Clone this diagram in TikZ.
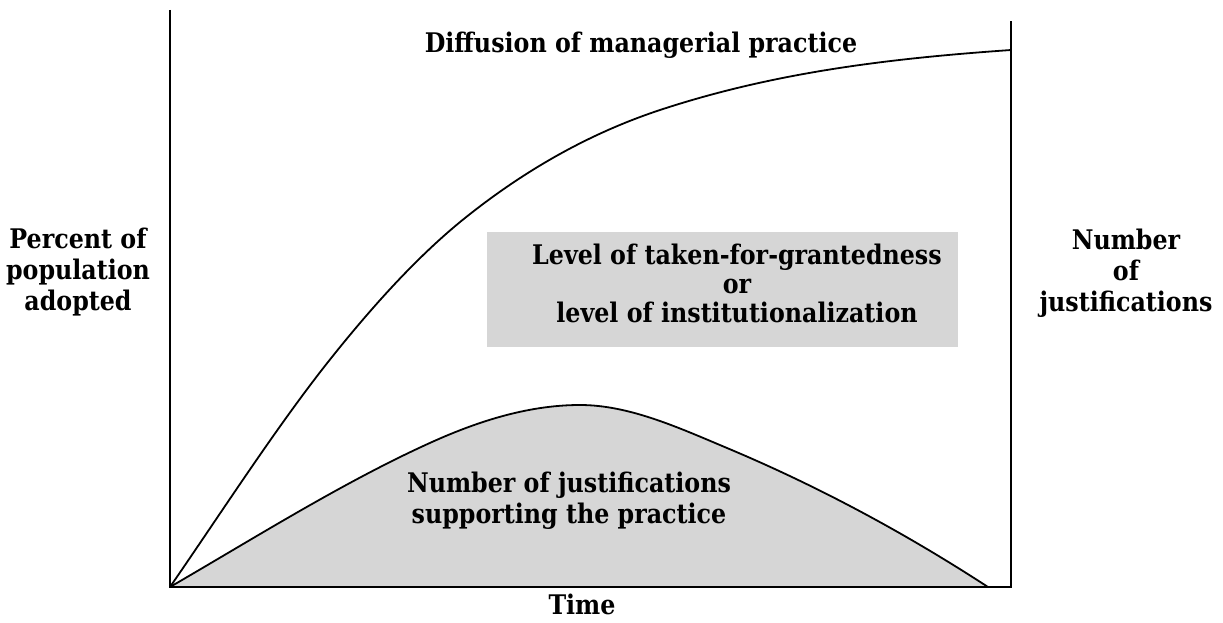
\documentclass[tikz,border=0pt]{standalone}
\usepackage{fontspec}
\setmainfont{DejaVu Serif}[FakeStretch=0.88]
\definecolor{fillgray}{gray}{0.84}
\begin{document}
\begin{tikzpicture}[x=1pt,y=-1pt,
  lbl/.style={font=\fontsize{27}{31}\selectfont\bfseries, inner sep=0pt, align=center, anchor=base},
  boxlbl/.style={font=\fontsize{27}{29}\selectfont\bfseries, inner sep=0pt, align=center, anchor=base},
  axisline/.style={line width=2.2pt, line join=miter},
  curve/.style={line width=1.8pt},
  shade/.style={fill=fillgray, draw=none}]
\useasboundingbox (0,0) rectangle (1223,623);
\coordinate (O) at (170,587);
\coordinate (TL) at (170,10);
\coordinate (BR) at (1011,587);
\coordinate (TR) at (1011,21);
% bell curve key points
\coordinate (b1) at (432,442);
\coordinate (b2) at (580,405);
\coordinate (b3) at (727,448);
\coordinate (b4) at (988,587);
% diffusion curve key points
\coordinate (d1) at (332,357);
\coordinate (d2) at (465,218);
\coordinate (d3) at (660,110);
\coordinate (d4) at (1011,50);
% shaded bell
\fill[fillgray] (O) .. controls (257.3,536.4) and (344.7,481.3) .. (b1)
  .. controls (481.3,419.8) and (530.7,405) .. (b2)
  .. controls (629,405) and (678,427.4) .. (b3)
  .. controls (814,484.5) and (901,530.4) .. (b4) -- cycle;
\draw[curve] (O) .. controls (257.3,536.4) and (344.7,481.3) .. (b1)
  .. controls (481.3,419.8) and (530.7,405) .. (b2)
  .. controls (629,405) and (678,427.4) .. (b3)
  .. controls (814,484.5) and (901,530.4) .. (b4);
% diffusion curve
\draw[curve] (O) .. controls (224,508.7) and (278,424.5) .. (d1)
  .. controls (376.3,301.6) and (420.7,253.5) .. (d2)
  .. controls (530,166) and (595,131.5) .. (d3)
  .. controls (777,71.4) and (894,58.2) .. (d4);
% grey box
\node[shade, minimum width=471pt, minimum height=115pt, inner sep=0pt] (box) at (722.5,289.5) {};
% axes
\draw[axisline] (TL) -- (O) -- (BR) -- (TR);
% labels
\node[lbl] (diff) at (641,53) {Diffusion of managerial practice};
\node[boxlbl] (boxtext) at (737,322) {Level of taken-for-grantedness\\or\\level of institutionalization};
\node[lbl] (just) at (569,523) {Number of justifications\\supporting the practice};
\node[lbl] (time) at (582,614) {Time};
\node[lbl] (ylab) at (78,310) {Percent of\\population\\adopted};
\node[lbl] (rlab) at (1126,311) {Number\\of\\justifications};
\end{tikzpicture}
\end{document}
